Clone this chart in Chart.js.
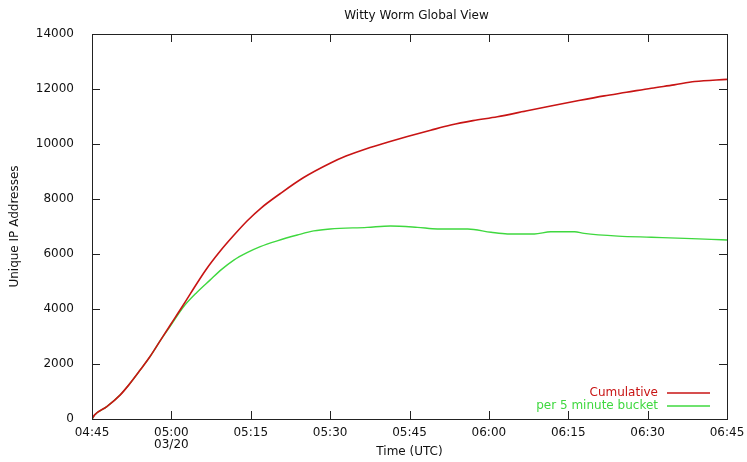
<!DOCTYPE html>
<html>
<head>
<meta charset="utf-8">
<script src="https://cdn.jsdelivr.net/npm/chart.js@4.4.0/dist/chart.umd.min.js"></script>
<style>
  html, body { margin: 0; padding: 0; background: #fff; }
  #wrap { width: 747px; height: 462px; }
</style>
</head>
<body>
<div id="wrap"><canvas id="worm"></canvas></div>
<script>
// ==== Data (minutes after 04:45 UTC) ====
const cumTimes = [0, 0.5, 2.8, 5.3, 7, 9.1, 11, 12.9, 14.8, 16.7, 18.6, 21.5, 24.2, 26.8, 29.3, 32, 35.6, 40, 45, 48, 52, 56, 59.6, 64, 67.8, 72, 76.6, 82, 86.7, 92, 96.8, 101, 105.7, 110, 113.9, 120];
const cumValues = [0, 150, 450, 870, 1250, 1780, 2280, 2850, 3420, 3980, 4560, 5420, 6100, 6680, 7200, 7680, 8200, 8780, 9300, 9560, 9840, 10070, 10270, 10500, 10690, 10850, 10990, 11200, 11380, 11580, 11750, 11880, 12030, 12150, 12270, 12350];

const bucketTimes = [0, 0.5, 2.8, 5.3, 7, 9.1, 11, 12.9, 14.8, 17.3, 19.8, 22.3, 24.5, 26.8, 29.3, 31.8, 35, 38.8, 41.9, 45, 52, 56.4, 61.5, 65.3, 71, 75.4, 78.5, 83.6, 86.7, 91.2, 93, 99.4, 105.7, 112, 117, 120];
const bucketValues = [0, 150, 450, 870, 1250, 1780, 2280, 2850, 3380, 4080, 4600, 5050, 5440, 5780, 6050, 6270, 6480, 6690, 6840, 6910, 6970, 7020, 6970, 6910, 6910, 6790, 6730, 6730, 6810, 6810, 6750, 6650, 6610, 6570, 6530, 6510];

const xTickLabels = ["04:45", "05:00", "05:15", "05:30", "05:45", "06:00", "06:15", "06:30", "06:45"];
const dateLabel = "03/20";
const seriesNames = ["Cumulative", "per 5 minute bucket"];
const seriesColors = ["#c81414", "#3fd83f"];

const FONT = "'DejaVu Sans', Verdana, sans-serif";

const toPoints = (xs, ys) => xs.map((x, i) => ({ x: x, y: ys[i] }));

// ==== Plot frame, inward ticks, title, legend (gnuplot look) ====
const gnuplotFrame = {
  id: "gnuplotFrame",
  afterDraw(chart) {
    const { ctx, chartArea: a, scales } = chart;
    ctx.save();
    ctx.strokeStyle = "#222";
    ctx.lineWidth = 1;
    ctx.strokeRect(a.left + 0.5, a.top + 0.5, a.right - a.left, a.bottom - a.top);

    const tl = 8;
    ctx.beginPath();
    scales.x.ticks.forEach(t => {
      const px = Math.round(scales.x.getPixelForValue(t.value)) + 0.5;
      ctx.moveTo(px, a.bottom); ctx.lineTo(px, a.bottom - tl);
      ctx.moveTo(px, a.top); ctx.lineTo(px, a.top + tl);
    });
    scales.y.ticks.forEach(t => {
      const py = Math.round(scales.y.getPixelForValue(t.value)) + 0.5;
      ctx.moveTo(a.left, py); ctx.lineTo(a.left + tl, py);
      ctx.moveTo(a.right, py); ctx.lineTo(a.right - tl, py);
    });
    ctx.stroke();

    // title
    ctx.fillStyle = "#111";
    ctx.font = "12px " + FONT;
    ctx.textAlign = "center";
    ctx.textBaseline = "middle";
    ctx.fillText("Witty Worm Global View", (a.left + a.right) / 2 + 7, 16);

    // legend inside bottom-right
    ctx.textAlign = "right";
    chart.data.datasets.forEach((ds, i) => {
      const y = a.bottom - 26 + i * 13;
      ctx.fillStyle = ds.borderColor;
      ctx.fillText(ds.label, a.right - 69, y);
      ctx.strokeStyle = ds.borderColor;
      ctx.lineWidth = 1.5;
      ctx.beginPath();
      ctx.moveTo(a.right - 60, y);
      ctx.lineTo(a.right - 17, y);
      ctx.stroke();
    });
    ctx.restore();
  }
};

const ctx = document.getElementById("worm").getContext("2d");
new Chart(ctx, {
  type: "line",
  data: {
    datasets: [
      {
        label: seriesNames[0],
        data: toPoints(cumTimes, cumValues),
        borderColor: seriesColors[0],
        borderWidth: 1.6,
        pointRadius: 0,
        cubicInterpolationMode: "monotone",
        fill: false
      },
      {
        label: seriesNames[1],
        data: toPoints(bucketTimes, bucketValues),
        borderColor: seriesColors[1],
        borderWidth: 1.4,
        pointRadius: 0,
        cubicInterpolationMode: "monotone",
        fill: false
      }
    ]
  },
  options: {
    responsive: true,
    maintainAspectRatio: false,
    animation: false,
    layout: { padding: { top: 34, right: 20, left: 0, bottom: 0 } },
    plugins: {
      legend: { display: false },
      title: { display: false },
      tooltip: { enabled: false }
    },
    scales: {
      x: {
        type: "linear",
        min: 0,
        max: 120,
        grid: { display: false },
        border: { display: false },
        ticks: {
          stepSize: 15,
          maxRotation: 0,
          autoSkip: false,
          padding: 0,
          color: "#111",
          font: { family: FONT, size: 12, lineHeight: 0.97 },
          callback: (v) => {
            const lbl = xTickLabels[v / 15];
            return v === 15 ? [lbl, dateLabel] : lbl;
          }
        },
        title: {
          display: true,
          text: "Time (UTC)",
          color: "#111",
          font: { family: FONT, size: 12 },
          padding: { top: 0, bottom: 3 }
        },
        afterFit: (scale) => { scale.height = 43; }
      },
      y: {
        min: 0,
        max: 14000,
        grid: { display: false },
        border: { display: false },
        ticks: {
          stepSize: 2000,
          padding: 10,
          color: "#111",
          font: { family: FONT, size: 12 },
          callback: (v) => String(v)
        },
        title: {
          display: true,
          text: "Unique IP Addresses",
          color: "#111",
          font: { family: FONT, size: 12 },
          padding: { top: 8, bottom: 0 }
        },
        afterFit: (scale) => { scale.width = 92; }
      }
    }
  },
  plugins: [gnuplotFrame]
});
</script>
</body>
</html>
